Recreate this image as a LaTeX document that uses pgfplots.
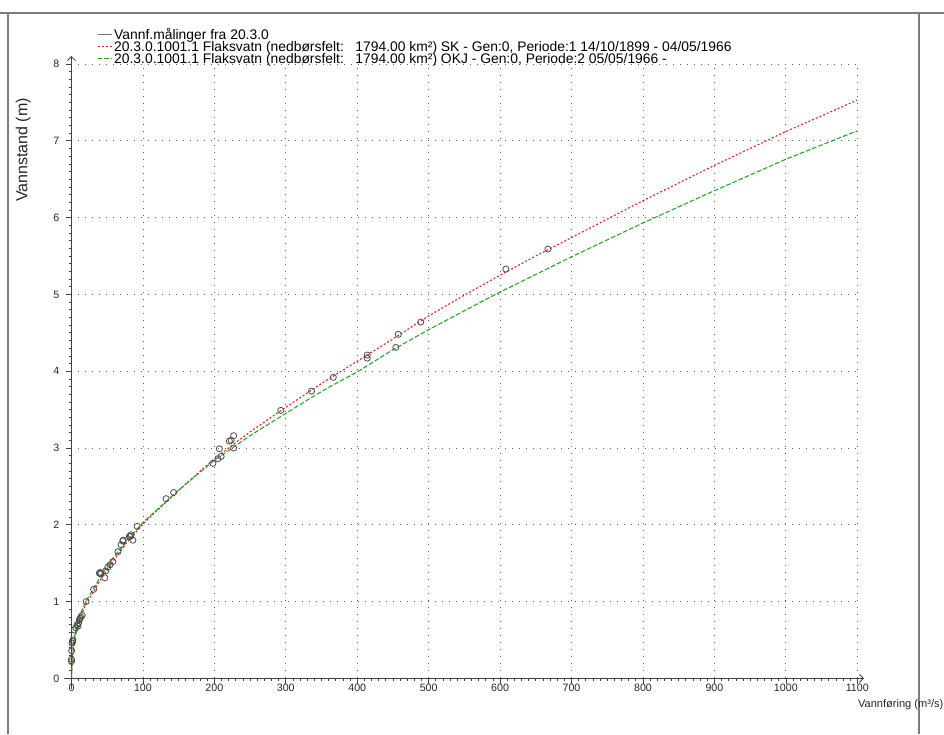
\documentclass[border=0pt]{standalone}
\usepackage{fontspec}
\setmainfont{Liberation Sans}
\usepackage{pgfplots}
\pgfplotsset{compat=1.18}
\usetikzlibrary{arrows.meta}

\definecolor{curvered}{RGB}{220,30,30}
\definecolor{curvegreen}{RGB}{35,165,35}
\definecolor{framegray}{RGB}{125,125,125}

\pgfplotstableread{
x y
0 0.0
0.5 0.11
1 0.19
2 0.32
3.5 0.45
5 0.54
8.5 0.68
14 0.83
20 0.96
31.5 1.14
43 1.32
57 1.51
75 1.74
100 2.01
150 2.45
200 2.86
250 3.21
300 3.53
350 3.84
400 4.13
450 4.42
500 4.72
550 4.99
600 5.25
650 5.50
700 5.74
800 6.22
900 6.68
1000 7.12
1100 7.53
}\redcurve

\pgfplotstableread{
x y
0 0.0
0.5 0.13
1 0.22
2 0.35
3.5 0.49
5 0.58
8.5 0.72
14 0.87
20 1.00
31.5 1.18
43 1.36
57 1.55
75 1.77
100 2.03
150 2.45
200 2.84
250 3.16
300 3.45
333 3.64
362 3.80
400 3.99
450 4.28
500 4.54
579 4.93
600 5.03
700 5.49
800 5.93
900 6.35
1000 6.76
1100 7.13
}\greencurve

\pgfplotstableread{
x y
-1.5 0.78
0 0.22
0 0.25
0.3 0.36
0.8 0.46
1.5 0.48
2 0.50
4 0.63
6 0.66
8 0.70
9 0.68
10 0.72
11 0.76
12 0.78
13 0.80
15 0.82
20.5 1.00
31 1.16
39 1.37
40.5 1.38
41 1.36
46.7 1.31
48 1.40
51 1.45
54 1.48
58 1.52
65 1.65
69.5 1.74
71.8 1.79
72.5 1.80
81 1.85
82.5 1.85
83.5 1.87
86 1.80
92 1.98
132.5 2.34
143 2.42
198 2.80
205 2.86
209.5 2.89
207 2.99
221 3.09
223.5 3.10
227 3.16
227 3.00
293 3.49
336 3.74
366.5 3.92
414 4.17
414 4.21
454 4.31
457.5 4.48
489 4.64
608 5.33
667 5.59
}\measured

\begin{document}
\begin{tikzpicture}
\useasboundingbox (0,0) rectangle (708pt,550.5pt);
\draw[framegray, line width=0.9pt] (0,540.75pt) -- (708pt,540.75pt);
\draw[framegray, line width=0.9pt] (6pt,0) -- (6pt,540.75pt);
\draw[framegray, line width=0.9pt] (689.25pt,0) -- (689.25pt,540.75pt);
\begin{axis}[
  at={(53.6pt,41.7pt)}, anchor=south west,
  scale only axis, width=589.35pt, height=460.8pt,
  xmin=0, xmax=1100, ymin=0, ymax=8,
  axis lines=left,
  x axis line style={draw=black!75, line width=0.6pt, shorten <=-5.6pt, shorten >=-5pt, -{Straight Barb[length=3pt,width=6pt]}},
  y axis line style={draw=black!75, line width=0.6pt, shorten <=-8pt, shorten >=-6pt, -{Straight Barb[length=3pt,width=6pt]}},
  xtick={0,100,...,1100}, ytick={0,1,...,8},
  minor x tick num=9, minor y tick num=9,
  tick align=outside, major tick length=4pt, minor tick length=1.6pt,
  tick style={black!75, line width=0.5pt},
  grid=major,
  major grid style={black!65, dash pattern=on 0.75pt off 4.5pt, line width=0.6pt},
  /pgf/number format/assume math mode=true,
  /pgf/number format/set thousands separator={},
  ticklabel style={font=\fontsize{8}{9}\selectfont, text=black!85},
  yticklabel style={xshift=-1.5pt},
  xticklabel style={yshift=3pt},
  xlabel={Vannføring (m³/s)},
  xlabel style={at={(axis description cs:0.995,-0.042)}, anchor=west, font=\fontsize{8.3}{9}\selectfont, text=black!85},
  ylabel={Vannstand (m)},
  ylabel style={at={(axis description cs:-0.0615,0.86)}, anchor=center, font=\fontsize{12}{14}\selectfont, text=black!85},
  legend cell align=left,
  legend image code/.code={\draw[#1] (0pt,0pt) -- (11pt,0pt);},
  legend style={at={(axis description cs:0.0325,1.0587)}, anchor=north west, draw=none, fill=none, inner sep=0pt,
    font=\fontsize{10.4}{9}\selectfont, row sep=0pt,
    nodes={inner sep=0.9pt, text height=7.2pt, text depth=0pt}},
]
\addplot[only marks, mark=o, mark size=2.3pt, mark options={draw=black!70, line width=0.6pt}, forget plot] table[x=x,y=y] {\measured};
\addlegendimage{black!55, solid, line width=0.8pt}
\addlegendentry{Vannf.målinger fra 20.3.0}
\addplot[draw=curvered, line width=0.8pt, dash pattern=on 1.5pt off 1.5pt] table[x=x,y=y] {\redcurve};
\addlegendentry{20.3.0.1001.1 Flaksvatn (nedbørsfelt:\ \ \ 1794.00 km²) SK - Gen:0, Periode:1 14/10/1899 - 04/05/1966}
\addplot[draw=curvegreen, line width=0.8pt, dash pattern=on 3.5pt off 1.5pt] table[x=x,y=y] {\greencurve};
\addlegendentry{20.3.0.1001.1 Flaksvatn (nedbørsfelt:\ \ \ 1794.00 km²) OKJ - Gen:0, Periode:2 05/05/1966 -}
\end{axis}
\end{tikzpicture}
\end{document}
